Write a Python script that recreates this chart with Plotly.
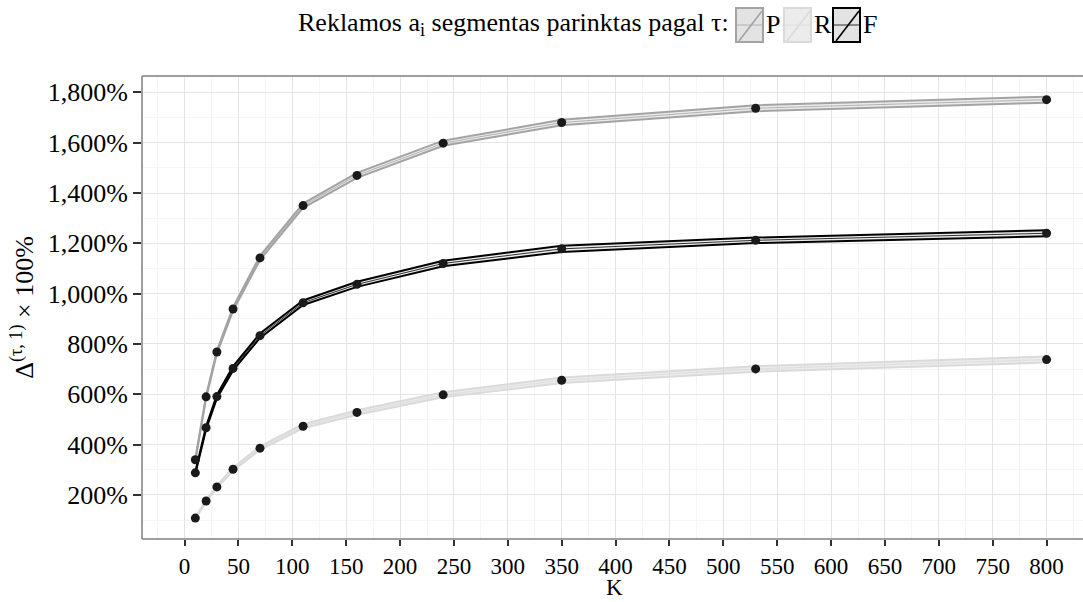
import plotly.graph_objects as go

# Number of segments K
K = [10, 20, 30, 45, 70, 110, 160, 240, 350, 530, 800]

# P criterion: central estimate and band limits (%)
p_mid = [340, 590, 768, 939, 1142, 1350, 1470, 1598, 1680, 1737, 1771]
p_low = [336, 585, 762, 932, 1134, 1341, 1460, 1588, 1669, 1725, 1759]
p_up = [344, 595, 774, 946, 1150, 1358, 1480, 1608, 1691, 1749, 1783]

# R criterion
r_mid = [108, 176, 232, 302, 386, 473, 528, 598, 656, 701, 738]
r_low = [105, 172, 227, 296, 379, 465, 519, 588, 645, 690, 726]
r_up = [111, 180, 237, 308, 393, 481, 537, 608, 667, 712, 750]

# F criterion
f_mid = [288, 467, 591, 703, 833, 964, 1037, 1120, 1178, 1212, 1240]
f_low = [284, 461, 584, 695, 824, 955, 1027, 1109, 1166, 1201, 1228]
f_up = [292, 473, 598, 711, 842, 973, 1047, 1131, 1190, 1223, 1252]

series = [
    ("R", r_low, r_mid, r_up, "#dadada"),
    ("P", p_low, p_mid, p_up, "#a3a3a3"),
    ("F", f_low, f_mid, f_up, "#000000"),
]

FONT = "Liberation Serif"
FS = 26
W, H = 1083, 602
ML, MR, MT, MB = 142, 0, 76, 63

fig = go.Figure()

for name, lo, mid, up, col in series:
    fig.add_trace(go.Scatter(x=K, y=lo, mode="lines", line=dict(color=col, width=2),
                             showlegend=False, hoverinfo="skip"))
    fig.add_trace(go.Scatter(x=K, y=up, mode="lines", line=dict(color=col, width=2),
                             fill="tonexty", fillcolor="rgba(200,200,200,0.35)",
                             showlegend=False, hoverinfo="skip"))
    fig.add_trace(go.Scatter(x=K, y=mid, mode="lines", line=dict(color=col, width=0.8),
                             showlegend=False, name=name))

for name, lo, mid, up, col in series:
    fig.add_trace(go.Scatter(x=K, y=mid, mode="markers",
                             marker=dict(color="#1a1a1a", size=9),
                             showlegend=False, name=name))


def px_x(px):
    return (px - ML) / (W - ML - MR)


def px_y(py):
    return (H - MB - py) / (H - MT - MB)


shapes = []
annotations = []

# Legend heading
annotations.append(dict(
    text="Reklamos a<sub>i</sub> segmentas parinktas pagal τ:",
    xref="paper", yref="paper", x=px_x(731), y=px_y(24),
    xanchor="right", yanchor="middle", showarrow=False,
    font=dict(family=FONT, size=FS, color="#000000")))

# Legend keys: box with band fill, centre line and diagonal stroke
keys = [("P", 736, "#a3a3a3", "#e3e3e3"),
        ("R", 784, "#dadada", "#ececec"),
        ("F", 833, "#000000", "#e3e3e3")]
top, bot, kw = 8, 42, 27
for lab, x0, col, fillc in keys:
    shapes.append(dict(type="rect", xref="paper", yref="paper",
                       x0=px_x(x0), x1=px_x(x0 + kw), y0=px_y(bot), y1=px_y(top),
                       line=dict(color=col, width=2), fillcolor=fillc, layer="above"))
    shapes.append(dict(type="line", xref="paper", yref="paper",
                       x0=px_x(x0 + 1), x1=px_x(x0 + kw - 1),
                       y0=px_y((top + bot) / 2), y1=px_y((top + bot) / 2),
                       line=dict(color=col, width=0.8), layer="above"))
    shapes.append(dict(type="line", xref="paper", yref="paper",
                       x0=px_x(x0 + 3), x1=px_x(x0 + kw - 1),
                       y0=px_y(bot - 1), y1=px_y(top + 3),
                       line=dict(color=col, width=1.6), layer="above"))
    annotations.append(dict(text=lab, xref="paper", yref="paper",
                            x=px_x(x0 + kw + 1), y=px_y(24),
                            xanchor="left", yanchor="middle", showarrow=False,
                            font=dict(family=FONT, size=FS, color="#000000")))

# x-axis title
annotations.append(dict(text="K", xref="paper", yref="paper",
                        x=px_x(614), y=px_y(602),
                        xanchor="center", yanchor="bottom", showarrow=False,
                        font=dict(family=FONT, size=23, color="#000000")))

# Panel border (left, top, bottom)
border = dict(color="#7f7f7f", width=1.5)
shapes.append(dict(type="line", xref="paper", yref="paper", x0=0, x1=0, y0=0, y1=1,
                   line=border, layer="above"))
shapes.append(dict(type="line", xref="paper", yref="paper", x0=0, x1=1, y0=1, y1=1,
                   line=border, layer="above"))
shapes.append(dict(type="line", xref="paper", yref="paper", x0=0, x1=1, y0=0, y1=0,
                   line=border, layer="above"))

fig.update_layout(
    width=W, height=H,
    margin=dict(l=ML, r=MR, t=MT, b=MB, pad=0),
    paper_bgcolor="white", plot_bgcolor="white",
    font=dict(family=FONT, size=FS, color="#000000"),
    shapes=shapes, annotations=annotations,
    showlegend=False,
)

fig.update_xaxes(
    range=[-39.5, 833.8], tick0=0, dtick=50,
    showgrid=True, gridcolor="#e5e5e5", gridwidth=1,
    minor=dict(dtick=25, tick0=0, showgrid=True, gridcolor="#f5f5f5", gridwidth=1),
    zeroline=False, showline=False,
    ticks="outside", ticklen=6, tickwidth=1.5, tickcolor="#333333",
    tickfont=dict(family=FONT, size=23, color="#000000"),
)

fig.update_yaxes(
    range=[25, 1865], tick0=0, dtick=200,
    showgrid=True, gridcolor="#e5e5e5", gridwidth=1,
    minor=dict(dtick=100, tick0=0, showgrid=True, gridcolor="#f5f5f5", gridwidth=1),
    zeroline=False, showline=False,
    tickformat=",d", ticksuffix="%",
    ticks="outside", ticklen=8, tickwidth=1.5, tickcolor="#333333",
    tickfont=dict(family=FONT, size=FS, color="#000000"),
    title=dict(text="Δ<sup>(τ, 1)</sup> × 100%", font=dict(family=FONT, size=FS), standoff=6),
)

fig.write_html("out.html")
